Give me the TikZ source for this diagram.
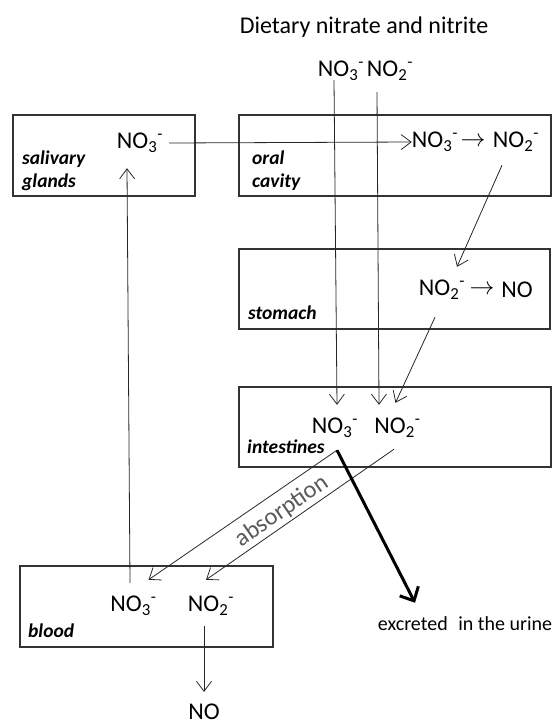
\documentclass[tikz,border=0pt]{standalone}
\usepackage{fontspec}
\setmainfont{Carlito}
\usepackage{tikz}
\usetikzlibrary{arrows.meta,calc,positioning}
\tikzset{
organ/.style={draw=black!80, line width=1.1pt, inner sep=0pt}, % the organ boxes
ion/.style={inner sep=0pt, minimum height=46pt, font=\fontsize{24}{28}\selectfont},
place/.style={inner sep=0pt, anchor=west, align=left, font=\fontsize{19.5}{23}\selectfont\bfseries\itshape},
flow/.style={draw=black!85, line width=0.8pt, -{Straight Barb[length=10pt,width=15pt]}},
excrete/.style={draw=black, line width=3pt, -{Straight Barb[length=11pt,width=21pt]}},
}
\newcommand{\nitrate}{NO\textsubscript{3}\textsuperscript{-}}
\newcommand{\nitrite}{NO\textsubscript{2}\textsuperscript{-}}

\begin{document}
\begin{tikzpicture}[x=1pt,y=1pt,yscale=-1]
\useasboundingbox (0,0) rectangle (553,725);
%Boxes
\node[organ, minimum width=182pt, minimum height=81pt] (salbox) at (104,155.5) {};
\node[organ, minimum width=312pt, minimum height=81pt] (oralbox) at (395,155.5) {};
\node[organ, minimum width=311pt, minimum height=80pt] (stombox) at (394.5,289) {};
\node[organ, minimum width=312pt, minimum height=80pt] (intbox) at (395,427) {};
\node[organ, minimum width=253pt, minimum height=81pt] (bloodbox) at (146.5,606.5) {};
%Organ names
\node[place] (sallab) at (22,170.5) {salivary\\glands};
\node[place] (orallab) at (252,170.5) {oral\\cavity};
\node[place] (stomlab) at (248,313) {stomach};
\node[place] (intlab) at (247,447) {intestines};
\node[place] (bloodlab) at (28,631) {blood};
%Ions
\node[font=\fontsize{24}{28}\selectfont] (title) at (364,27) {Dietary nitrate and nitrite};
\node[ion] (topno3) at (341,71) {\nitrate};
\node[ion] (topno2) at (390,71) {\nitrite};
\node[ion] (salno3) at (140,143) {\nitrate};
\node[ion] (oralno3) at (435,142) {\nitrate};
\node[ion] (oralarr) at (473,142) {$\rightarrow$};
\node[ion] (oralno2) at (516,142) {\nitrite};
\node[ion] (stno2) at (442,290) {\nitrite};
\node[ion] (starr) at (482,290) {$\rightarrow$};
\node[ion] (stno) at (517,290) {NO};
\node[ion] (intno3) at (335,428) {\nitrate};
\node[ion] (intno2) at (397.5,428) {\nitrite};
\node[ion] (bloodno3) at (133.5,606) {\nitrate};
\node[ion] (bloodno2) at (211,606) {\nitrite};
\node[ion, minimum height=0pt] (no) at (204,712) {NO};
\node[inner sep=0pt, font=\fontsize{20}{24}\selectfont] (urine) at (465,624) {excreted\hspace{0.3em} in the urine};
\node[rotate=34.7, text=black!65, font=\fontsize{24.5}{28}\selectfont] (absorb) at (282,511) {absorption};
%Straight Lines
\draw[flow] ($(salno3.east)+(6,0)$) -- (oralno3.west);
\draw[flow] ($(topno3.south)+(-7,-14)$) -- ($(intno3.north)+(2,0)$);
\draw[flow] ($(topno2.south)+(-13,-2)$) -- ($(intno2.north)+(-18.5,0)$);
\draw[flow] ($(oralno2.south)+(-14,0)$) -- ($(stno2.north)+(15,0)$);
\draw[flow] ($(stno2.south)+(-7,4)$) -- ($(intno2.north)+(-2,-2)$);
\draw[flow] ($(intno3.south)+(2,-1)$) -- ($(bloodno3.north)+(15,-3)$);
\draw[flow] ($(intno2.south)+(-3.5,-2)$) -- ($(bloodno2.north)+(-5,-3)$);
\draw[flow] ($(bloodno3.north)+(-3.5,0)$) -- ($(salno3.south)+(-13,2)$);
\draw[flow] ($(bloodno2.south)+(-7,-3)$) -- ($(no.north)+(0,-12)$);
%Thick arrow
\draw[excrete] ($(intno3.south)+(2,-1)$) -- ($(urine.north)+(-50,-14)$);
\end{tikzpicture}
\end{document}
